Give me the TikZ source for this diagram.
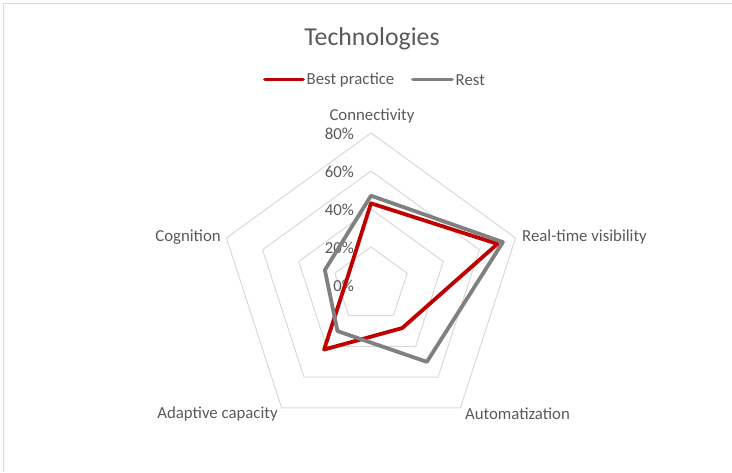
\documentclass[tikz,border=0pt]{standalone}
\usepackage{fontspec}
\setmainfont{Carlito}
\definecolor{txt}{HTML}{595959}
\definecolor{gridc}{HTML}{D9D9D9}
\definecolor{bestc}{HTML}{C00000}
\definecolor{restc}{HTML}{808080}
\begin{document}
\begin{tikzpicture}[x=1pt,y=-1pt,
  lbl/.style={text=txt, font=\fontsize{16.8}{20}\selectfont, inner sep=0pt},
  ttl/.style={text=txt, font=\fontsize{25.8}{30}\selectfont, inner sep=0pt},
  ring/.style={draw=gridc, line width=1pt},
  bestline/.style={draw=bestc, line width=3.8pt, line join=round},
  restline/.style={draw=restc, line width=3.8pt, line join=round}]
\useasboundingbox (0,0) rectangle (732,472);
\draw[gridc, line width=1.2pt] (3.5,472) -- (3.5,3.5) -- (732,3.5);
% title and legend
\node[ttl] (title) at (372,38.5) {Technologies};
\coordinate (lb1) at (265,79.5);
\coordinate (lb2) at (303,79.5);
\coordinate (lr1) at (413,79.5);
\coordinate (lr2) at (452,79.5);
\draw[bestline, line cap=round] (lb1) -- (lb2);
\draw[restline, line cap=round] (lr1) -- (lr2);
\node[lbl, anchor=west] (legb) at (306.5,80.5) {Best practice};
\node[lbl, anchor=west] (legr) at (455.5,80.5) {Rest};
\begin{scope}[shift={(371,285)}]
  \foreach \r in {38,76,114,152}
    \draw[ring] (90:\r pt) -- (18:\r pt) -- (-54:\r pt) -- (-126:\r pt) -- (162:\r pt) -- cycle;
  % axis tick labels
  \node[lbl, anchor=east] (t80) at (-17,-151) {80\%};
  \node[lbl, anchor=east] (t60) at (-17,-113) {60\%};
  \node[lbl, anchor=east] (t40) at (-17,-75) {40\%};
  \node[lbl, anchor=east] (t20) at (-17,-37) {20\%};
  \node[lbl, anchor=east] (t0) at (-17,1) {0\%};
  % best practice
  \coordinate (b1) at (90:81.7pt);
  \coordinate (b2) at (18:133pt);
  \coordinate (b3) at (-54:53.2pt);
  \coordinate (b4) at (-126:79.8pt);
  \coordinate (b5) at (162:24.7pt);
  \draw[bestline] (b1) -- (b2) -- (b3) -- (b4) -- (b5) -- cycle;
  % rest
  \coordinate (r1) at (90:89.3pt);
  \coordinate (r2) at (18:138.7pt);
  \coordinate (r3) at (-54:95pt);
  \coordinate (r4) at (-126:57pt);
  \coordinate (r5) at (162:48.5pt);
  \draw[restline] (r1) -- (r2) -- (r3) -- (r4) -- (r5) -- cycle;
\end{scope}
% category labels
\node[lbl] (cconn) at (372,116.5) {Connectivity};
\node[lbl, anchor=west] (creal) at (522,237) {Real-time visibility};
\node[lbl, anchor=east] (ccog) at (221,237) {Cognition};
\node[lbl] (cadapt) at (217.5,414) {Adaptive capacity};
\node[lbl] (cauto) at (517.5,414) {Automatization};
\end{tikzpicture}
\end{document}
